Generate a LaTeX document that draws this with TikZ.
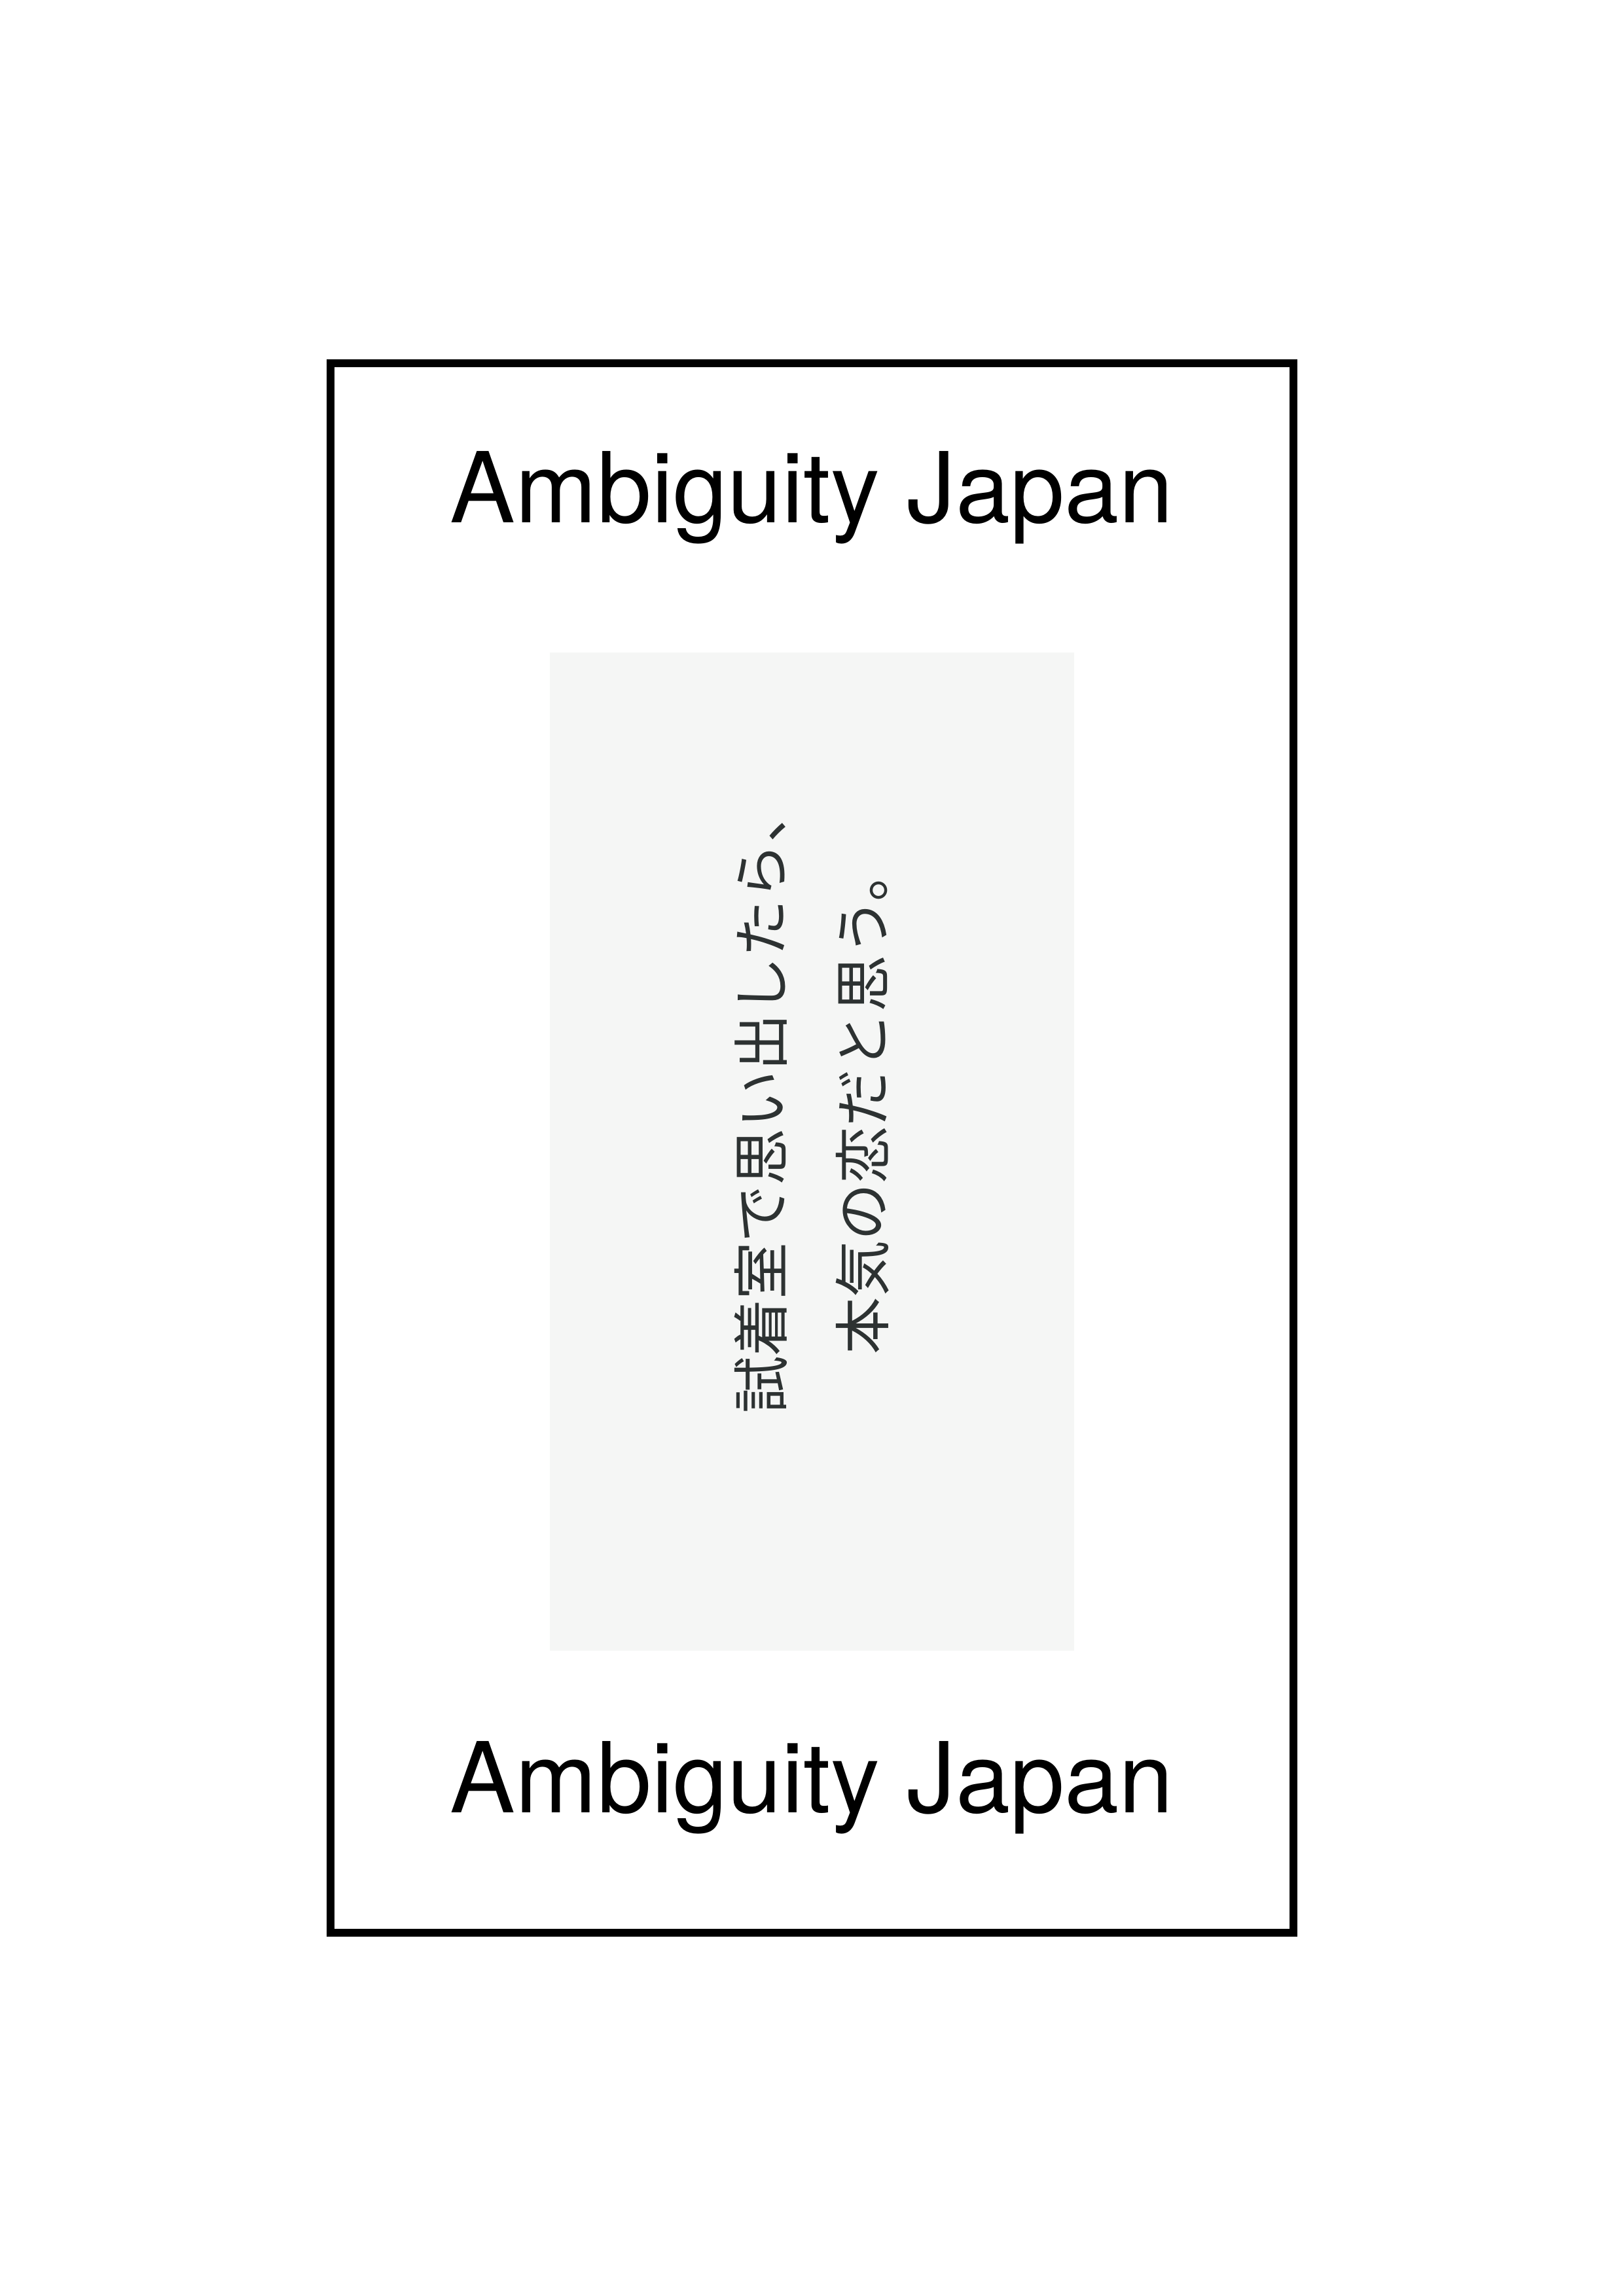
\documentclass[tikz,border=0pt]{standalone}
\usepackage{fontspec}
\setmainfont{TeX Gyre Heros}
\newfontfamily\cjk{Noto Sans CJK JP}
\definecolor{paper}{RGB}{245,246,245}
\definecolor{jpink}{RGB}{45,50,50}
\tikzset{
  frame/.style={draw=black, line width=2.88pt},
  panel/.style={fill=paper, draw=none},
  title/.style={font=\fontsize{36}{43}\selectfont, text=black, inner sep=0pt, anchor=base},
  poem/.style={font=\cjk\fontsize{21}{37.2}\selectfont, text=jpink, align=center, rotate=90, inner sep=0pt}
}
\begin{document}
\begin{tikzpicture}
\useasboundingbox (0,0) rectangle (21,29.7);
\fill[white] (0,0) rectangle (21,29.7);
\coordinate (fsw) at (4.276,4.695);
\coordinate (fne) at (16.732,25.0);
\draw[frame] (fsw) rectangle (fne);
\coordinate (psw) at (7.113,8.344);
\coordinate (pne) at (13.896,21.258);
\fill[panel] (psw) rectangle (pne);
\node[title] (top) at (10.5,22.943) {Ambiguity Japan};
\node[title] (bottom) at (10.5,6.254) {Ambiguity Japan};
\node[poem] (verse) at (10.5,15.474) {試着室で思い出したら、\\本気の恋だと思う。};
\end{tikzpicture}
\end{document}
